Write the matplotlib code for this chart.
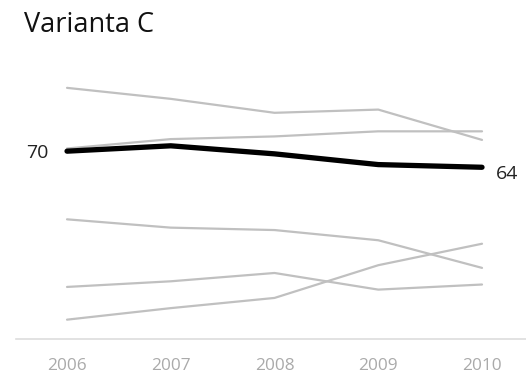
import matplotlib.pyplot as plt
import numpy as np

plt.rcParams['font.family'] = ['Open Sans', 'DejaVu Sans']

# data
years = [2006, 2007, 2008, 2009, 2010]
highlight = [70, 72, 69, 65, 64]
others = [
    [93.6, 89.5, 84.3, 85.5, 74.2],
    [71.0, 74.5, 75.5, 77.4, 77.4],
    [44.6, 41.5, 40.6, 36.8, 26.5],
    [19.4, 21.5, 24.6, 18.4, 20.3],
    [7.2, 11.5, 15.3, 27.5, 35.5],
]

fig = plt.figure(figsize=(5.26, 3.73), dpi=100)
ax = fig.add_axes([0.030, 0.0912, 0.970, 0.7193])

# gray context lines
for vals in others:
    ax.plot(years, vals, color='#c0c0c0', linewidth=1.6, solid_capstyle='round', zorder=2)

# highlighted series
ax.plot(years, highlight, color='black', linewidth=3.8, solid_capstyle='round', zorder=3)

# end labels
ax.annotate(str(highlight[0]), xy=(years[0], highlight[0]), xytext=(-13, -1),
            textcoords='offset points', ha='right', va='center', fontsize=14, color='#222222')
ax.annotate(str(highlight[-1]), xy=(years[-1], highlight[-1]), xytext=(10, -5),
            textcoords='offset points', ha='left', va='center', fontsize=14, color='#222222')

# axes styling
ax.set_xlim(2005.506, 2010.424)
ax.set_ylim(0, 100)
ax.set_xticks(years)
ax.set_yticks([])
for s in ['top', 'right', 'left']:
    ax.spines[s].set_visible(False)
ax.spines['bottom'].set_color('#dddddd')
ax.spines['bottom'].set_linewidth(1.2)
ax.tick_params(axis='x', length=0, pad=13.5, labelsize=12.4, labelcolor='#aaaaaa')

# title
fig.text(0.045, 0.913, 'Varianta C', fontsize=19.5, ha='left', va='baseline', color='#111111')

plt.savefig('out.png', dpi=100)
